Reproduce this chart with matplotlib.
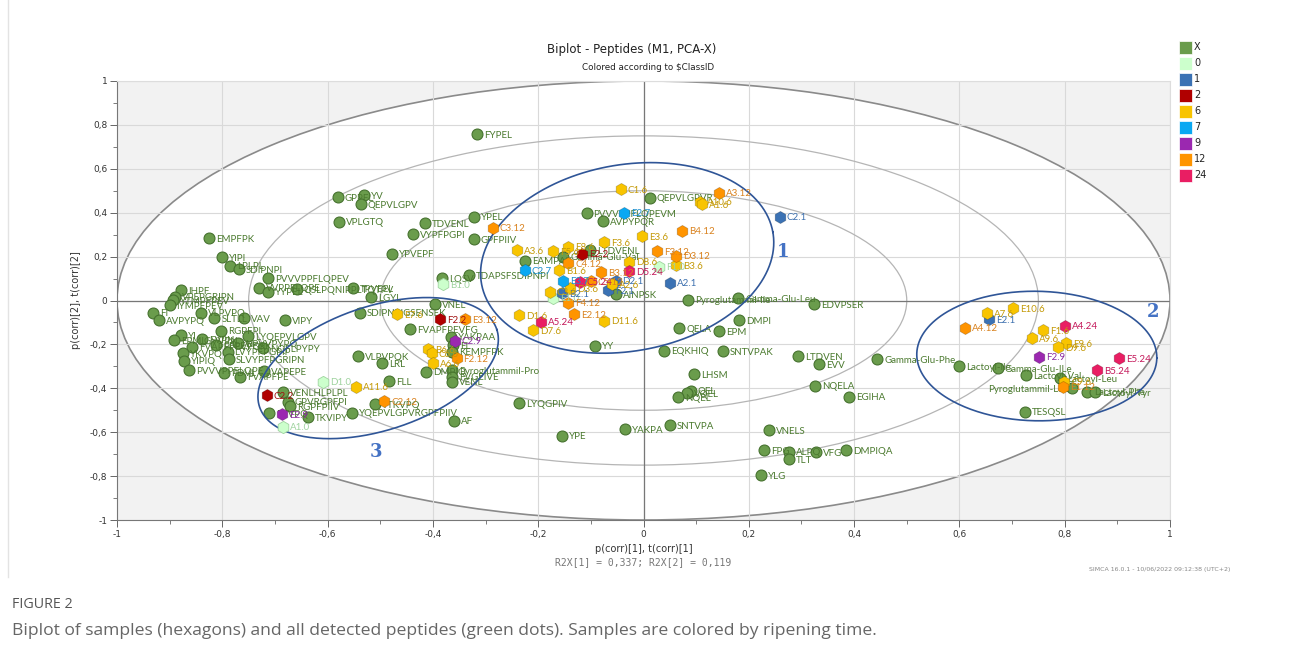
import matplotlib
matplotlib.use("Agg")
import matplotlib.pyplot as plt
from matplotlib.patches import Ellipse, Rectangle
import numpy as np

# Peptides (green dots): name, p(corr)[1], p(corr)[2]
pep_names = [
    "EMPFPK", "YIPI", "LPLPL", "SDIPNPI", "PVVVPPFLQPEV", "VVPPFLQPE", "YYPEL",
    "QSLPQNIPPLTQTPV", "TPVEEL", "LGYL", "SDIPNPIGSENSEK", "FVAPFPEVFG", "IHPF",
    "VPEPGRIPN", "YTMPFPEV", "IYMPFPEV", "FI", "AVPYPQ", "VLPVPQ", "SLTLL", "VAV",
    "VIPY", "RGPFPI", "YI", "EPMIGVVPN", "FVPN", "FVAPFPEVFGK", "PFPEVFGK",
    "NPVVPYPQ", "LYQEPVLGPV", "NQFLPYPY", "YKVPQ", "LVYPFPGPIP", "YIPIQ",
    "SLVYPFPGRIPN", "PVVVPPFLQPE", "PDVL", "FVAPFPE", "VAPEPE", "FLL", "LRL",
    "VLPVPQK", "VENLHLPLPL", "GPPFL", "YV", "QEPVLGPV", "VPLGTQ", "TDVENL",
    "VYPFPGPI", "YPVEPF", "YAKPAA", "EL", "KEMPFPK", "DMPIQ", "Pyroglutammil-Pro",
    "FVGEIVE", "VENL", "AF", "YQEPVLGPVRGPFPIIV", "YTKVPQ", "GPVRGPFPI",
    "RGPFPIIV", "EYVPQ", "TKVIPY", "FYPEL", "YPEL", "GPFPIIV", "LQSV",
    "TDAPSFSDIPNPI", "EAMPAK", "Gamma-Glu-Val", "PVVVPPFLQPEVM", "QEPVLGPVR",
    "AVPYPQR", "LTDVENL", "AINPSK", "YY", "QELA", "EPM", "DMPI",
    "Pyroglutammil-Ile", "Gamma-Glu-Leu", "EDVPSER", "EQKHIQ", "SNTVPAK",
    "LTDVEN", "EVV", "Gamma-Glu-Phe", "LHSM", "NQELA", "EGIHA", "QEL", "VQEL",
    "NQEL", "LYQGPIV", "YPE", "YAKPA", "SNTVPA", "VNELS", "FPG", "ALPQ", "TLT",
    "VFG", "DMPIQA", "YLG", "Lactoyl-Ile", "Gamma-Glu-ILe", "Lactoyl-Val",
    "Lactoyl-Leu", "Lactoyl-Phe", "Lactoyl-Tyr", "TESQSL", "VNEL",
]
pep_x = [
    -0.825, -0.801, -0.785, -0.769, -0.713, -0.730, -0.714,
    -0.659, -0.551, -0.518, -0.538, -0.443, -0.879,
    -0.890, -0.893, -0.900, -0.931, -0.921, -0.841, -0.815, -0.759,
    -0.680, -0.803, -0.879, -0.891, -0.839, -0.858, -0.812,
    -0.770, -0.751, -0.722, -0.874, -0.790, -0.873,
    -0.787, -0.863, -0.797, -0.766, -0.720, -0.483, -0.497,
    -0.542, -0.684, -0.581, -0.531, -0.537, -0.578, -0.415,
    -0.438, -0.478, -0.366, -0.361, -0.364, -0.413, -0.364,
    -0.364, -0.364, -0.360, -0.553, -0.510, -0.676,
    -0.671, -0.711, -0.637, -0.316, -0.322, -0.322, -0.383,
    -0.331, -0.225, -0.152, -0.108, 0.012,
    -0.076, -0.102, -0.053, -0.092, 0.068, 0.144, 0.182,
    0.085, 0.180, 0.324, 0.039, 0.151,
    0.294, 0.334, 0.444, 0.096, 0.326, 0.390, 0.090, 0.082,
    0.066, -0.236, -0.154, -0.035, 0.050, 0.238, 0.229, 0.277, 0.277,
    0.328, 0.385, 0.223, 0.600, 0.673, 0.726,
    0.791, 0.842, 0.857, 0.725, -0.396,
]
pep_y = [
    0.283, 0.197, 0.159, 0.144, 0.103, 0.058, 0.040,
    0.052, 0.056, 0.016, -0.056, -0.131, 0.048,
    0.017, 0.002, -0.021, -0.056, -0.089, -0.056, -0.081, -0.081,
    -0.089, -0.138, -0.157, -0.180, -0.177, -0.210, -0.203,
    -0.195, -0.162, -0.218, -0.241, -0.233, -0.274,
    -0.268, -0.317, -0.329, -0.347, -0.321, -0.367, -0.286,
    -0.253, -0.418, 0.470, 0.481, 0.438, 0.359, 0.352,
    0.302, 0.213, -0.165, -0.203, -0.233, -0.324, -0.317,
    -0.347, -0.370, -0.548, -0.511, -0.472, -0.461,
    -0.481, -0.514, -0.532, 0.759, 0.382, 0.279, 0.101,
    0.116, 0.181, 0.200, 0.397, 0.468,
    0.362, 0.230, 0.028, -0.206, -0.127, -0.141, -0.089,
    0.004, 0.010, -0.016, -0.228, -0.230,
    -0.253, -0.289, -0.268, -0.335, -0.388, -0.438, -0.411, -0.423,
    -0.441, -0.468, -0.616, -0.585, -0.567, -0.590, -0.681, -0.689, -0.723,
    -0.692, -0.681, -0.795, -0.298, -0.309, -0.339,
    -0.354, -0.415, -0.417, -0.507, -0.016,
]

# Samples (hexagons), grouped by ripening time class
class_ids = ["0", "1", "2", "6", "7", "9", "12", "24"]
class_colors = {
    "X": "#6a9c4c", "0": "#ccffcc", "1": "#3b72b4", "2": "#b00000",
    "6": "#f8c400", "7": "#0aa8f2", "9": "#9b28b0", "12": "#ff9400", "24": "#e91e63",
}
label_colors = {
    "0": "#9fd39f", "1": "#3b6fae", "2": "#a01010", "6": "#c49a08",
    "7": "#1a8fcf", "9": "#8a2aa0", "12": "#d9821f", "24": "#c4185a",
}

samp_names = [
    "D1.0", "A1.0", "B1.0", "F1.0", "E1.0",
    "C2.1", "A2.1", "D2.1", "F2.1", "B2.1", "E2.1",
    "C2.2", "F2.2", "E2.2",
    "E7.6", "A11.6", "B6.6", "C6.6", "A6.6", "A3.6", "E8.6", "F5.6", "B1.6",
    "C1.6", "A10.6", "A1.6", "E3.6", "F3.6", "B3.6", "D8.6", "D3.6", "C3.6",
    "D11.6", "D1.6", "D7.6", "A2.6", "A7.6", "E10.6", "F1.6", "A9.6", "E9.6",
    "D9.6", "C9.6",
    "C2.7", "E2.7", "E3.7",
    "C2.9", "E2.9", "F2.9",
    "C3.12", "C4.12", "A3.12", "B4.12", "F3.12", "D3.12", "B3.12", "C5.12",
    "F4.12", "E2.12", "E3.12", "F2.12", "C2.12", "A4.12", "E1.12",
    "D5.24", "C5.24", "A5.24", "A4.24", "E5.24", "B5.24",
]
samp_class = (["0"] * 5 + ["1"] * 6 + ["2"] * 3 + ["6"] * 29 + ["7"] * 3
              + ["9"] * 3 + ["12"] * 15 + ["24"] * 6)
samp_x = [
    -0.609, -0.684, -0.380, 0.030, -0.171,
    0.259, 0.050, -0.053, -0.067, -0.155, 0.657,
    -0.716, -0.387, -0.117,
    -0.468, -0.546, -0.409, -0.402, -0.399, -0.241, -0.143, -0.171, -0.160,
    -0.043, 0.107, 0.111, -0.002, -0.075, 0.062, -0.028, -0.140, -0.178,
    -0.075, -0.236, -0.210, -0.060, 0.653, 0.702, 0.759, 0.737, 0.802,
    0.788, 0.799,
    -0.225, -0.037, -0.153,
    -0.358, -0.687, 0.751,
    -0.286, -0.143, 0.144, 0.073, 0.026, 0.062, -0.081, -0.100,
    -0.143, -0.132, -0.339, -0.355, -0.492, 0.611, 0.797,
    -0.028, -0.121, -0.195, 0.801, 0.904, 0.862,
]
samp_y = [
    -0.370, -0.575, 0.075, 0.154, 0.013,
    0.382, 0.081, 0.090, 0.048, 0.033, -0.084,
    -0.432, -0.086, 0.214,
    -0.063, -0.393, -0.222, -0.241, -0.286, 0.229, 0.245, 0.226, 0.138,
    0.508, 0.450, 0.438, 0.294, 0.265, 0.162, 0.177, 0.056, 0.040,
    -0.092, -0.066, -0.134, 0.075, -0.058, -0.036, -0.134, -0.172, -0.195,
    -0.213, -0.370,
    0.138, 0.400, 0.090,
    -0.183, -0.518, -0.256,
    0.332, 0.169, 0.491, 0.318, 0.226, 0.204, 0.130, 0.089,
    -0.010, -0.062, -0.086, -0.263, -0.458, -0.124, -0.393,
    0.134, 0.086, -0.097, -0.115, -0.263, -0.317,
]

# Circled clusters: centre (data), semi-axes (x-units), tilt (deg on screen)
clusters = [("1", -0.031, 0.194, 0.281, 0.177, 10, 0.265, 0.221),
            ("2", 0.747, -0.253, 0.228, 0.123, -1, 0.968, -0.052),
            ("3", -0.504, -0.308, 0.237, 0.118, 18, -0.508, -0.690)]

W, H = 1293, 662
fig = plt.figure(figsize=(W / 100, H / 100), dpi=100)
fig.patch.set_facecolor("white")
ax = fig.add_axes([117 / W, 1 - 520 / H, (1170 - 117) / W, (520 - 81) / H])
ax.set_facecolor("#f2f2f2")
ax.set_xlim(-1, 1)
ax.set_ylim(-1, 1)

# correlation ellipses
ax.add_patch(Ellipse((0, 0), 2, 2, facecolor="white", edgecolor="#8a8a8a", lw=1.2, zorder=0.5))
for r in [0.75, 0.5]:
    ax.add_patch(Ellipse((0, 0), 2 * r, 2 * r, facecolor="none", edgecolor="#b5b5b5", lw=0.9, zorder=0.8))

ticks = np.round(np.arange(-1, 1.01, 0.2), 1)
ax.set_xticks(ticks)
ax.set_yticks(ticks)
ax.set_xticks(np.round(np.arange(-1, 1.01, 0.1), 1), minor=True)
ax.set_yticks(np.round(np.arange(-1, 1.01, 0.1), 1), minor=True)
fmt = lambda v: "0" if v == 0 else ("%g" % v).replace(".", ",")
ax.set_xticklabels([fmt(t) for t in ticks], fontsize=6.5, color="#333")
ax.set_yticklabels([fmt(t) for t in ticks], fontsize=6.5, color="#333")
ax.tick_params(which="major", length=5, width=0.7, color="#666", pad=2)
ax.tick_params(which="minor", length=3, width=0.6, color="#666")
ax.grid(True, which="major", color="#d9d9d9", lw=0.8, zorder=0.6)
ax.set_axisbelow(True)
ax.axhline(0, color="#777", lw=0.9, zorder=0.9)
ax.axvline(0, color="#777", lw=0.9, zorder=0.9)
for s in ["top", "right"]:
    ax.spines[s].set_color("#dddddd")
for s in ["left", "bottom"]:
    ax.spines[s].set_color("#777")
    ax.spines[s].set_linewidth(0.8)

# blue cluster outlines
k = 526.5 / 219.5
t = np.linspace(0, 2 * np.pi, 300)
for lab, cx, cy, a, b, ang, lx, ly in clusters:
    th = np.deg2rad(ang)
    u = a * np.cos(t) * np.cos(th) - b * np.sin(t) * np.sin(th)
    v = a * np.cos(t) * np.sin(th) + b * np.sin(t) * np.cos(th)
    ax.plot(cx + u, cy + v * k, color="#2f5597", lw=1.2, zorder=5)
    ax.text(lx, ly, lab, fontsize=13, fontweight="bold", family="DejaVu Serif",
            color="#4472c4", ha="center", va="center", zorder=6)

lab_font = dict(fontsize=7, family="Lato")

# peptides
ax.scatter(pep_x, pep_y, s=62, marker="o", facecolor=class_colors["X"],
           edgecolor="#46722f", linewidth=0.8, zorder=3)
for n, x, y in zip(pep_names, pep_x, pep_y):
    ax.annotate(n, (x, y), xytext=(5, -0.8), textcoords="offset points",
                ha="left", va="center", color="#4b7a2f", zorder=4, **lab_font)
# one label sits to the left of its dot in the reference
ax.annotate("Pyroglutammil-Leu", (0.813, -0.400), xytext=(-2, -0.8),
            textcoords="offset points", ha="right", va="center",
            color="#4b7a2f", zorder=4, **lab_font)
ax.scatter([0.813], [-0.400], s=62, marker="o", facecolor=class_colors["X"],
           edgecolor="#46722f", linewidth=0.8, zorder=3)

# samples
for c in class_ids:
    idx = [i for i, sc in enumerate(samp_class) if sc == c]
    xs = [samp_x[i] for i in idx]
    ys = [samp_y[i] for i in idx]
    edge = "#9fd39f" if c == "0" else "#00000033"
    ax.scatter(xs, ys, s=78, marker="h", facecolor=class_colors[c],
               edgecolor=edge, linewidth=0.6, zorder=7)
    for i in idx:
        ax.annotate(samp_names[i], (samp_x[i], samp_y[i]), xytext=(5, -0.8),
                    textcoords="offset points", ha="left", va="center",
                    color=label_colors[c], zorder=8, **lab_font)

ax.set_xlabel("p(corr)[1], t(corr)[1]", fontsize=7, color="#333", labelpad=4)
ax.set_ylabel("p(corr)[2], t(corr)[2]", fontsize=7, color="#333", labelpad=6)

fig.text(632 / W, 1 - 50 / H, "Biplot - Peptides (M1, PCA-X)", fontsize=8.5,
         ha="center", va="center", color="#222")
fig.text(648 / W, 1 - 67 / H, r"Colored according to \$ClassID", fontsize=6.3,
         ha="center", va="center", color="#222")
fig.text(643 / W, 1 - 562 / H, "R2X[1] = 0,337; R2X[2] = 0,119", fontsize=7,
         family="DejaVu Sans Mono", ha="center", va="center", color="#777")
fig.text(1230 / W, 1 - 570 / H, "SIMCA 16.0.1 - 10/06/2022 09:12:38 (UTC+2)",
         fontsize=4.5, ha="right", va="center", color="#888")

# legend of classes
legend_keys = ["X"] + class_ids
for j, key in enumerate(legend_keys):
    yc = 47 + j * 16
    fig.patches.append(Rectangle((1179 / W, 1 - (yc + 6.5) / H), 13 / W, 13 / H,
                                 transform=fig.transFigure, facecolor=class_colors[key],
                                 edgecolor="white", lw=0.5))
    fig.text(1194 / W, 1 - yc / H, key, fontsize=7, ha="left", va="center", color="#222")

# card frame and figure caption
fig.add_artist(plt.Line2D([8 / W, 8 / W], [1, 1 - 577 / H], transform=fig.transFigure,
                          color="#e3e3e3", lw=1))
fig.text(12 / W, 1 - 604 / H, "FIGURE 2", fontsize=10.3, ha="left", va="center",
         color="#555", family="Open Sans")
fig.text(12 / W, 1 - 631 / H,
         "Biplot of samples (hexagons) and all detected peptides (green dots). "
         "Samples are colored by ripening time.",
         fontsize=12.6, ha="left", va="center", color="#666", family="Open Sans")

fig.savefig("out.png", dpi=100)
